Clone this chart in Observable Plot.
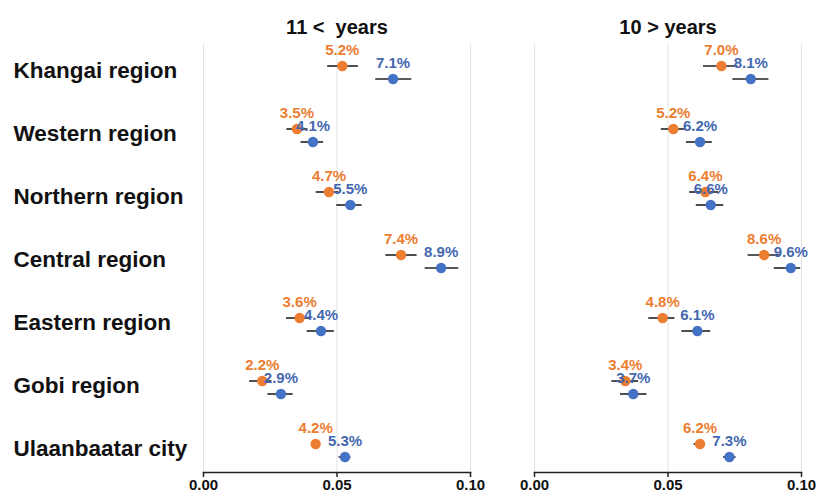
<!DOCTYPE html>
<html><head><meta charset="utf-8">
<script src="https://cdn.jsdelivr.net/npm/d3@7"></script>
<script src="https://cdn.jsdelivr.net/npm/@observablehq/plot@0.6"></script>
<style>body{margin:0;background:#fff} svg text{white-space:pre}</style>
</head><body><div id="chart"></div>
<script>
const regions = ["Khangai region","Western region","Northern region","Central region","Eastern region","Gobi region","Ulaanbaatar city"];
const groups = ["11 <  years", "10 > years"];
const seriesNames = ["orange", "blue"];
const seriesColors = ["#ED7D31", "#4472C4"];
const labelColors = ["#ED7D31", "#4468B0"];
const ticks = [0, 0.05, 0.10];

// 11 < years
const olderOrange = [0.052,0.035,0.047,0.074,0.036,0.022,0.042];
const olderOrangeLo = [0.0465,0.0312,0.0422,0.0683,0.0311,0.0173,0.0412];
const olderOrangeHi = [0.0580,0.0391,0.0507,0.0800,0.0397,0.0256,0.0428];
const olderBlue = [0.071,0.041,0.055,0.089,0.044,0.029,0.053];
const olderBlueLo = [0.0645,0.0365,0.0499,0.0830,0.0388,0.0241,0.0508];
const olderBlueHi = [0.0780,0.0450,0.0594,0.0956,0.0490,0.0336,0.0552];
// 10 > years
const youngerOrange = [0.070,0.052,0.064,0.086,0.048,0.034,0.062];
const youngerOrangeLo = [0.0633,0.0475,0.0581,0.0800,0.0428,0.0290,0.0598];
const youngerOrangeHi = [0.0762,0.0565,0.0690,0.0921,0.0526,0.0390,0.0640];
const youngerBlue = [0.081,0.062,0.066,0.096,0.061,0.037,0.073];
const youngerBlueLo = [0.0743,0.0569,0.0606,0.0898,0.0552,0.0322,0.0708];
const youngerBlueHi = [0.0878,0.0666,0.0709,0.0997,0.0660,0.0421,0.0755];

const table = [
  [groups[0], seriesNames[0], olderOrange, olderOrangeLo, olderOrangeHi],
  [groups[0], seriesNames[1], olderBlue, olderBlueLo, olderBlueHi],
  [groups[1], seriesNames[0], youngerOrange, youngerOrangeLo, youngerOrangeHi],
  [groups[1], seriesNames[1], youngerBlue, youngerBlueLo, youngerBlueHi]
];
const rows = [];
for (const [g, s, v, lo, hi] of table) {
  regions.forEach((r, i) => rows.push({group: g, series: s, region: r, value: v[i], lo: lo[i], hi: hi[i]}));
}

const offsets = {orange: -6.5, blue: 6.5};
const fmt = d3.format(".1%");
const tickFmt = d3.format(".2f");
const seriesMarks = [];
seriesNames.forEach((s, si) => {
  const data = rows.filter(d => d.series === s);
  const dy = offsets[s];
  seriesMarks.push(
    Plot.ruleY(data, {fx: "group", y: "region", x1: "lo", x2: "hi", dy, stroke: "#222", strokeWidth: 1.6}),
    Plot.ruleX(data, {fx: "group", x: "lo", y: "region", insetTop: -3, insetBottom: -3, dy, stroke: "#222", strokeWidth: 1.6}),
    Plot.ruleX(data, {fx: "group", x: "hi", y: "region", insetTop: -3, insetBottom: -3, dy, stroke: "#222", strokeWidth: 1.6}),
    Plot.dot(data, {fx: "group", x: "value", y: "region", dy, r: 5.2, fill: seriesColors[si], stroke: null}),
    Plot.text(data, {fx: "group", x: "value", y: "region", text: d => fmt(d.value), dy: dy - 16, fill: labelColors[si], fontSize: 15, fontWeight: "bold"})
  );
});

const chart = Plot.plot({
  width: 818, height: 500,
  marginLeft: 203, marginRight: 16, marginTop: 44, marginBottom: 28,
  style: {fontFamily: "'Liberation Sans', Arial, sans-serif", background: "#fff", fontSize: "15px"},
  fx: {domain: groups, paddingInner: 0.193, paddingOuter: 0, axis: null},
  x: {domain: [0, 0.1]},
  y: {type: "point", domain: regions, range: [70, 452], padding: 0, axis: null},
  marks: [
    Plot.ruleX(ticks, {stroke: "#e3e3e3", strokeWidth: 1}),
    Plot.frame({anchor: "bottom", stroke: "#222", strokeWidth: 1.5}),
    Plot.axisX({ticks, tickSize: 5, text: null, stroke: "#222", strokeWidth: 1.5}),
    Plot.text(ticks, {x: d => d, text: d => tickFmt(d), frameAnchor: "bottom", dy: 17, fontSize: 15, fontWeight: "bold", fill: "#111"}),
    ...seriesMarks,
    Plot.text(groups, {fx: d => d, text: d => d, frameAnchor: "top", dy: -25, fontSize: 20, fontWeight: "bold", fill: "#111"}),
    Plot.text(regions, {fx: () => groups[0], y: d => d, text: d => d, frameAnchor: "left", textAnchor: "start", dx: -190, dy: -2, fontSize: 22.5, fontWeight: "bold", fill: "#111"})
  ]
});
document.getElementById("chart").appendChild(chart);
</script>
</body></html>
